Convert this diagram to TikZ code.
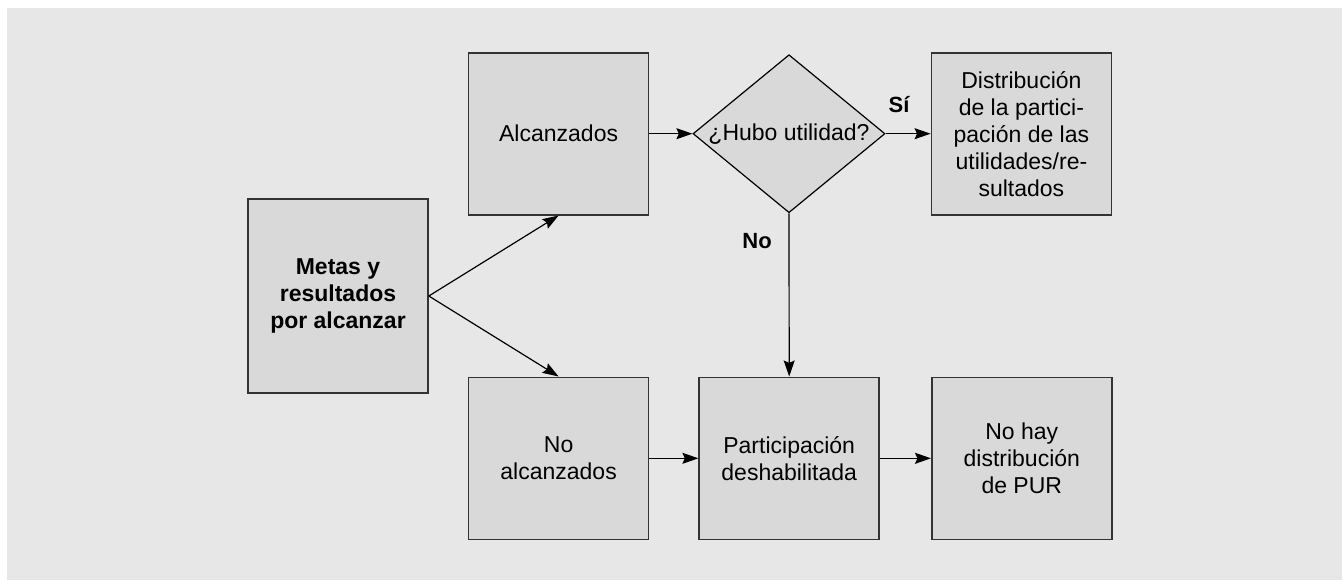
\documentclass[tikz,border=0pt]{standalone}
\usepackage{fontspec}
\setmainfont{Liberation Sans}
\usetikzlibrary{arrows.meta,positioning,shapes.geometric}
\definecolor{cPage}{HTML}{E7E7E7}
\definecolor{cBox}{HTML}{D9D9D9}
\definecolor{cLine}{HTML}{333333}
\tikzset{
  box/.style={draw=cLine, line width=0.8pt, fill=cBox, text=black,
              align=center, font=\fontsize{11.5pt}{13.5pt}\selectfont,
              minimum width=90pt, minimum height=81pt, inner sep=2pt},
  bigbox/.style={box, minimum height=97pt, font=\fontsize{11.5pt}{13.4pt}\selectfont\bfseries},
  gate/.style={diamond, aspect=1.215, draw=black, line width=0.6pt, fill=cBox,
               align=center, font=\fontsize{11.5pt}{13.5pt}\selectfont,
               minimum width=96pt, minimum height=79pt, inner sep=0pt},
  flow/.style={-{Stealth[length=8pt,width=5.5pt,inset=1.2pt]}, line width=0.6pt, draw=black},
  lbl/.style={font=\fontsize{11pt}{13pt}\selectfont\bfseries, text=black},
}
\begin{document}
\begin{tikzpicture}[node distance=20pt]
  % page
  \useasboundingbox (-169pt,-142pt) rectangle (502pt,148pt);
  \fill[cPage] (-165.5pt,-142pt) rectangle (502pt,144pt);

  % start
  \node[bigbox] (metas) at (0,0) {Metas y\\resultados\\por alcanzar};

  % two outcomes
  \node[box, above right=40.25pt and 19.5pt of metas.east] (alc) {Alcanzados};
  \node[box, below right=40.25pt and 19.5pt of metas.east] (noalc) {No\\alcanzados};

  % decision
  \node[gate, right=21.5pt of alc] (hubo) {¿Hubo utilidad?};
  \node[box, right=22.5pt of hubo] (dist) {Distribución\\de la partici-\\pación de las\\utilidades/re-\\sultados};

  % bottom row
  \node[box, right=24.5pt of noalc] (part) {Participación\\deshabilitada};
  \node[box, right=25.5pt of part] (nohay) {No hay\\distribución\\de PUR};

  \draw[flow] (metas.east) -- (alc.south);
  \draw[flow] (metas.east) -- (noalc.north);
  \draw[flow] (alc.east) -- (hubo.west);
  \draw[flow] (hubo.east) -- node[lbl, above=7pt, pos=0.3] {Sí} (dist.west);
  \draw[flow] (hubo.south) -- node[lbl, left=5pt, pos=0.17] {No} (part.north);
  \draw[flow] (noalc.east) -- (part.west);
  \draw[flow] (part.east) -- (nohay.west);
\end{tikzpicture}
\end{document}
